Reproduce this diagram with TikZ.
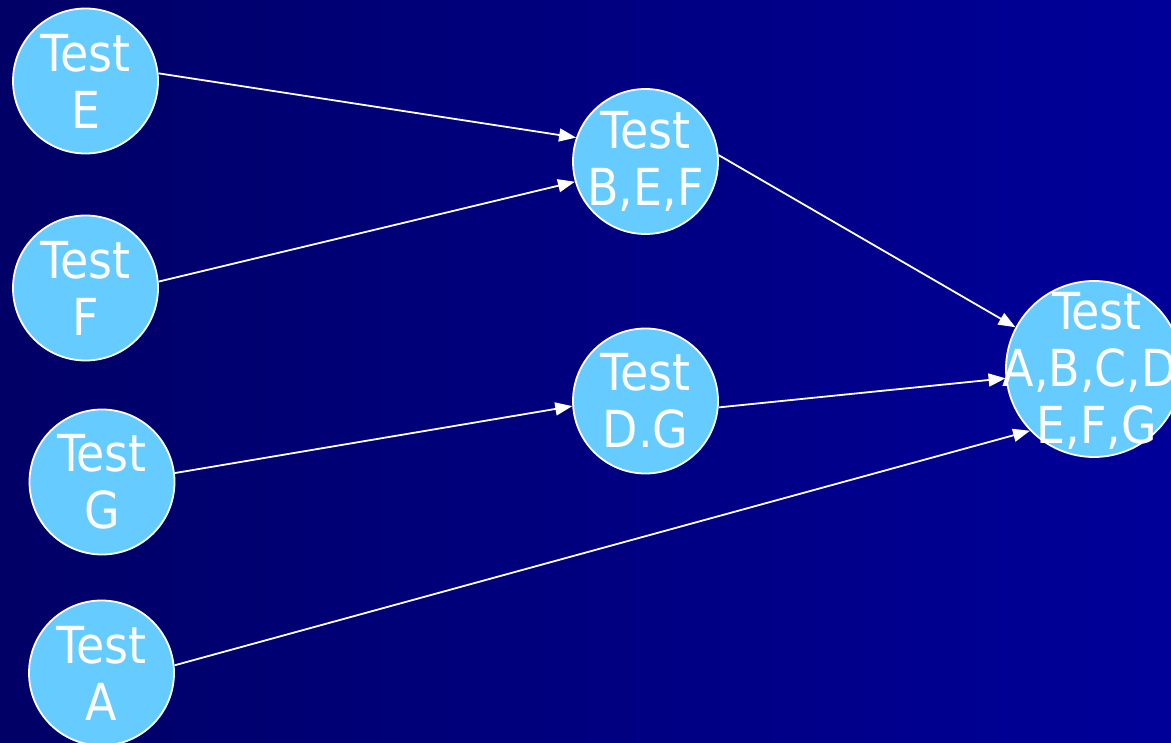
\documentclass[tikz,border=0pt]{standalone}
\usepackage{fontspec}
\setmainfont{DejaVu Sans Condensed}
\usetikzlibrary{arrows.meta}
\definecolor{bgleft}{RGB}{0,0,102}
\definecolor{bgright}{RGB}{0,0,153}
\definecolor{disc}{RGB}{102,204,255}
\tikzset{
  testdisc/.style={circle, draw=white, line width=1.8pt, fill=disc, inner sep=0pt, minimum size=145pt},
  testtext/.style={text=white, align=center, inner sep=0pt, font=\fontsize{51}{57}\selectfont},
  link/.style={draw=white, line width=1.8pt, -{Triangle[length=17pt,width=13pt]}}
}
\begin{document}
\begin{tikzpicture}[x=1pt,y=-1pt]
  \useasboundingbox (0,0) rectangle (1171,743);
  \clip (0,0) rectangle (1171,743);
  \shade[left color=bgleft, right color=bgright] (0,0) rectangle (1171,743);

  % discs
  \node[testdisc] (E) at (85.5,81) {};
  \node[testdisc] (F) at (85.5,288) {};
  \node[testdisc] (G) at (102,482) {};
  \node[testdisc] (A) at (101.5,673) {};
  \node[testdisc] (BEF) at (645.5,161.5) {};
  \node[testdisc] (DG) at (645.5,401) {};
  \node[testdisc, minimum size=176pt] (ALL) at (1094,369) {};

  % labels
  \node[testtext] at (E) {Test\\E};
  \node[testtext] at (F) {Test\\F};
  \node[testtext] at (G) {Test\\G};
  \node[testtext] at (A) {Test\\A};
  \node[testtext] at (BEF) {Test\\B,E,F};
  \node[testtext] at (DG) {Test\\D.G};
  \node[testtext] at (1097,371) {Test\\A,B,C,D,\\E,F,G};

  % dependencies
  \draw[link] (E.6) -- (BEF.161);
  \draw[link] (F.5) -- (BEF.196);
  \draw[link] (BEF.5) -- (ALL.152);
  \draw[link] (G.7) -- (DG.184);
  \draw[link] (DG.-5) -- (ALL.186);
  \draw[link] (A.6) -- (ALL.224);
\end{tikzpicture}
\end{document}
